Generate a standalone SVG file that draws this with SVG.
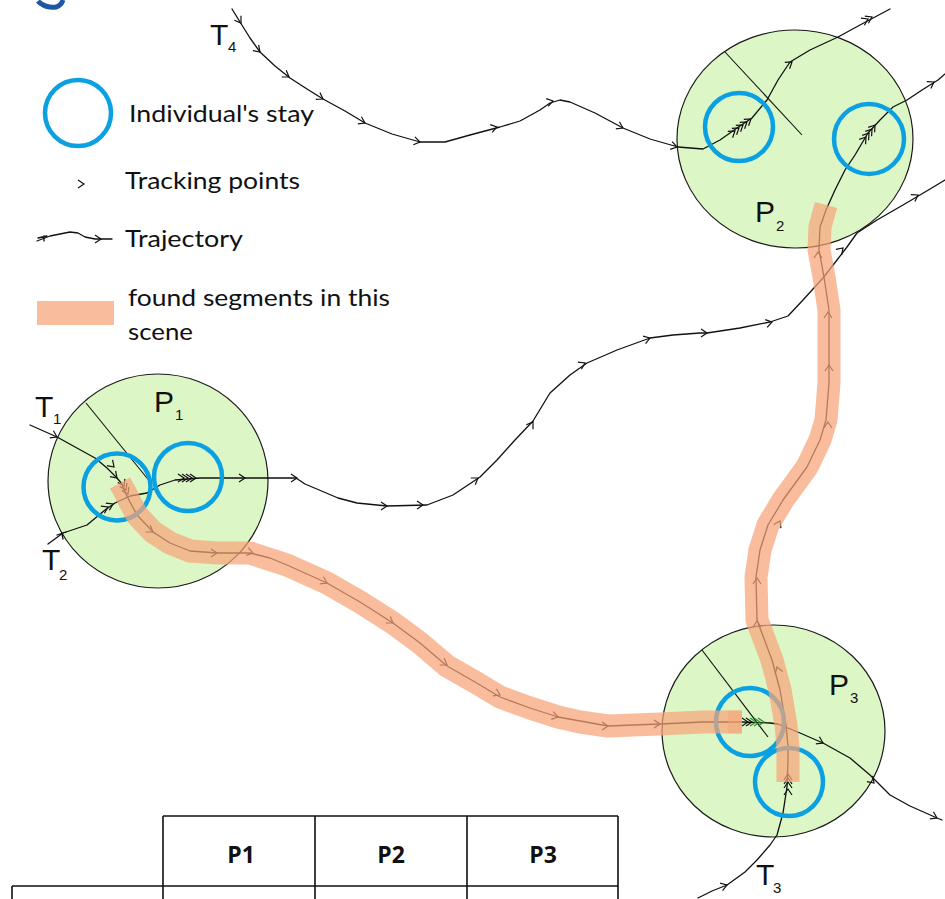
<svg xmlns="http://www.w3.org/2000/svg" width="945" height="899" viewBox="0 0 945 899">
<defs>
<style>
.area{fill:#ddf6c6;stroke:#1a1a1a;stroke-width:1.2}
.rad{stroke:#111;stroke-width:1.1;fill:none}
.trj{fill:none;stroke:#111;stroke-width:1.3;stroke-linejoin:round;stroke-linecap:round}
.stay{fill:none;stroke:#0aa0e2;stroke-width:4.5}
.seg{fill:none;stroke:#f7a478;stroke-opacity:.72;stroke-width:23;stroke-linejoin:round;stroke-linecap:butt}
.tk path{fill:none;stroke:none;marker-end:url(#ch)}
.tk.gr path{marker-end:url(#chg)}
.lbl{font-family:"Liberation Sans",Arial,sans-serif;fill:#111}
.big{font-size:30px}
.sub{font-size:15px}
.lg{font-family:Lato,"Open Sans",sans-serif;font-size:24px;fill:#111}
.tbl{fill:none;stroke:#111;stroke-width:1.6}
.th{font-family:"Open Sans","Liberation Sans",sans-serif;font-weight:700;font-size:23px;text-anchor:middle;fill:#111}
</style>
<marker id="ch" markerUnits="userSpaceOnUse" orient="auto" overflow="visible" markerWidth="1" markerHeight="1">
<path d="M-6,-4 L0,0 L-6,4" fill="none" stroke="#111" stroke-width="1.2"/>
</marker>
<marker id="chg" markerUnits="userSpaceOnUse" orient="auto" overflow="visible" markerWidth="1" markerHeight="1">
<path d="M-6,-4 L0,0 L-6,4" fill="none" stroke="#2e8b2e" stroke-width="1.2"/>
</marker>
</defs>
<rect width="945" height="899" fill="#fff"/>
<!-- heading glyph cut by the top edge -->
<path d="M38,1 C42,6 50,8 56,7 C60,6 62,3 63,0" fill="none" stroke="#1c57a5" stroke-width="5"/>

<!-- places -->
<g id="P1"><ellipse class="area" cx="158" cy="481" rx="110" ry="107"/><line class="rad" x1="86" y1="403" x2="151" y2="483"/></g>
<g id="P2"><ellipse class="area" cx="795" cy="139" rx="118" ry="109"/><line class="rad" x1="725" y1="52" x2="802" y2="135"/></g>
<g id="P3"><ellipse class="area" cx="773.5" cy="731" rx="111.5" ry="106"/><line class="rad" x1="702" y1="650" x2="768" y2="737"/></g>

<!-- trajectories -->
<g id="connectors">
<polyline id="T4" class="trj" points="232,9 240,22 250,38 260,52 275,66 290,78 307,89 323,99 345,111 365,123 392,134 420,142 445,142 470,135 500,127 520,121 540,110 550,103 560,100 570,102 595,113 623,128 650,139 678,147 703,149 720,140 737,128 752,118 767,100 778,80 790,62 810,50 838,37 860,25 890,9"/>
<polyline id="T1" class="trj" points="30,425 57,437 95,458 107,468 117,478 122,484 125,492 130,502 137,515 153,532 170,543 190,551 217,553 250,553 270,558 287,565 327,583 360,602 393,623 420,643 447,666 475,682 500,697 530,708 558,717 608,726 660,724 703,722 742,722 770,723 778,724 800,733 823,743 850,758 870,775 890,795 910,806 937,818 942,820"/>
<polyline id="T2" class="trj" points="48,544 63,533 87,525 105,510 115,503 130,496 147,493 160,485 175,480 200,478 268,478 296,478 305,484 338,498 357,503 387,506 427,505 453,495 480,477 497,460 515,440 533,421 550,393 570,375 587,363 617,350 650,338 673,335 700,333 707,333 740,328 770,322 788,316 803,300 823,278 837,260 847,247 857,233 877,220 903,205 920,195 945,180"/>
<polyline id="T3" class="trj" points="698,898 712,891 727,885 745,872 757,860 770,845 777,835 783,813 787,787 788,760 788,747 786,725 780,690 772,660 757,620 756,577 760,550 768,525 783,500 807,467 820,440 826,420 829,383 829,310 824,277 819,250 820,227 826,210 835,190 845,170 855,155 868,133 880,120 893,107 907,100 922,90 938,80 945,74"/>
<!-- start marks -->
<path class="trj" d="M57,535 l9,-3 M62,534 l1,5"/>
<!-- tracking points -->
<g class="tk">
<path d="M239,20l2,3"/><path d="M257,49l3,3"/><path d="M286,75l3,2"/><path d="M318,96l5,3"/><path d="M361,121l4,2"/><path d="M415,141l5,1"/><path d="M493,128l4,-1"/><path d="M549,102l4,-1"/><path d="M619,126l4,2"/><path d="M673,146l4,1"/>
<path d="M731,134l4,-3"/><path d="M735,131l4,-3"/><path d="M739,128l4,-3"/><path d="M743,125l4,-3"/><path d="M747,122l4,-3"/>
<path d="M788,65l4,-3"/><path d="M866,20l2,-1"/><path d="M870,18l2,-1"/>
<path d="M863,141l3,-4"/><path d="M866,137l3,-4"/><path d="M869,133l3,-4"/><path d="M872,129l3,-4"/><path d="M929,85l5,-3"/>
<path d="M55,436l2,1"/><path d="M112,465l2,2"/><path d="M115,476l2,2"/><path d="M106,508l2,-1"/><path d="M111,505l2,-1"/>
<path d="M183,478h1"/><path d="M187,478h1"/><path d="M191,478h1"/><path d="M195,478h1"/>
<path d="M244,478h1"/><path d="M296,478h1"/><path d="M386,506h1"/><path d="M422,505h1"/><path d="M475,480l3,-2"/><path d="M531,425l2,-3"/><path d="M583,364l2,-1"/><path d="M647,339l3,-1"/><path d="M706,333h1"/><path d="M768,323l4,-1"/><path d="M840,251l3,-3"/><path d="M913,198l5,-3"/>
<path d="M123,484l1,2"/><path d="M125,488l1,2"/><path d="M127,492l1,2"/><path d="M150,530l3,2"/><path d="M216,553h1"/><path d="M249,552l4,1"/><path d="M325,582l2,1"/><path d="M390,621l3,2"/><path d="M444,663l3,2"/><path d="M498,694l2,1"/><path d="M554,716l4,1"/><path d="M607,726h1"/><path d="M659,724h1"/>
<path d="M747,722h1"/><path d="M751,722h1"/>
<path d="M788,775v-1"/><path d="M788,779v-1"/><path d="M788,783v-1"/><path d="M788,790v-1"/><path d="M778,670l-1,-3"/><path d="M757,622v-1"/><path d="M757,579v-1"/><path d="M779,523l1,-2"/><path d="M828,423v-1"/><path d="M829,366v-1"/><path d="M828,313v-1"/><path d="M818,253v-1"/>
<path d="M724,886l3,-1"/>
<path d="M821,742l2,1"/><path d="M873,782l1,1"/><path d="M935,817l2,1"/>
</g>
<g class="tk gr"><path d="M755,722h1"/><path d="M759,722h1"/><path d="M763,722h1"/></g>
</g>

<!-- stays -->
<g id="stays">
<circle class="stay" cx="117" cy="487" r="33.5"/>
<circle class="stay" cx="188" cy="477" r="34"/>
<circle class="stay" cx="739" cy="127" r="34"/>
<circle class="stay" cx="869" cy="139" r="35"/>
<circle class="stay" cx="750" cy="722" r="34"/>
<circle class="stay" cx="789" cy="782" r="34"/>
</g>

<!-- segments found in this scene -->
<g id="segments">
<polyline class="seg" points="120,483 125,492 130,502 137,515 153,532 170,543 190,551 217,553 250,553 287,565 327,583 360,602 393,623 420,643 447,666 475,682 500,697 530,708 558,717 580,722 608,726 660,724 703,722 742,722"/>
<rect x="728" y="710.5" width="14" height="23" fill="#f7a478" fill-opacity=".45"/>
<polyline class="seg" points="788,782 788,747 786,725 780,690 772,660 757,620 756,577 760,550 768,525 783,500 807,467 820,440 826,420 829,383 829,310 824,277 819,250 820,227 826,205"/>
</g>

<!-- labels -->
<g id="labels" class="lbl">
<text class="big" x="210" y="45">T</text><text class="sub" x="228" y="52">4</text>
<text class="big" x="35" y="417">T</text><text class="sub" x="53" y="424">1</text>
<text class="big" x="42" y="570">T</text><text class="sub" x="59" y="580">2</text>
<text class="big" x="756" y="885">T</text><text class="sub" x="773" y="893">3</text>
<text class="big" x="154" y="412">P</text><text class="sub" x="175" y="420">1</text>
<text class="big" x="755" y="222">P</text><text class="sub" x="776" y="231">2</text>
<text class="big" x="829" y="695">P</text><text class="sub" x="850" y="703">3</text>
</g>

<!-- legend -->
<g id="legend">
<circle class="stay" cx="78" cy="113" r="33"/>
<text class="lg" x="129" y="122" textLength="185" lengthAdjust="spacingAndGlyphs">Individual's stay</text>
<path d="M78,180 L84,184 L78,188" fill="none" stroke="#111" stroke-width="1.2"/>
<text class="lg" x="125" y="189" textLength="175" lengthAdjust="spacingAndGlyphs">Tracking points</text>
<polyline class="trj" points="37,241 50,236 70,232 78,233 85,237 95,239 112,239"/>
<path class="trj" d="M38,238 l9,-2 M44,236 l0,5"/>
<g class="tk"><path d="M100,239h1"/></g>
<text class="lg" x="125" y="247" textLength="118" lengthAdjust="spacingAndGlyphs">Trajectory</text>
<rect x="37" y="301" width="77" height="24" fill="#f9bd9e"/>
<text class="lg" x="128" y="306" textLength="262" lengthAdjust="spacingAndGlyphs">found segments in this</text>
<text class="lg" x="128" y="340" textLength="65" lengthAdjust="spacingAndGlyphs">scene</text>
</g>

<!-- table header -->
<g id="table">
<path class="tbl" d="M163,816 H618 M163,816 V899 M315,816 V899 M467,816 V899 M618,816 V899 M12,886 H618 M12,886 V899"/>
<text class="th" x="241" y="863">P1</text>
<text class="th" x="391" y="863">P2</text>
<text class="th" x="543" y="863">P3</text>
</g>
</svg>
